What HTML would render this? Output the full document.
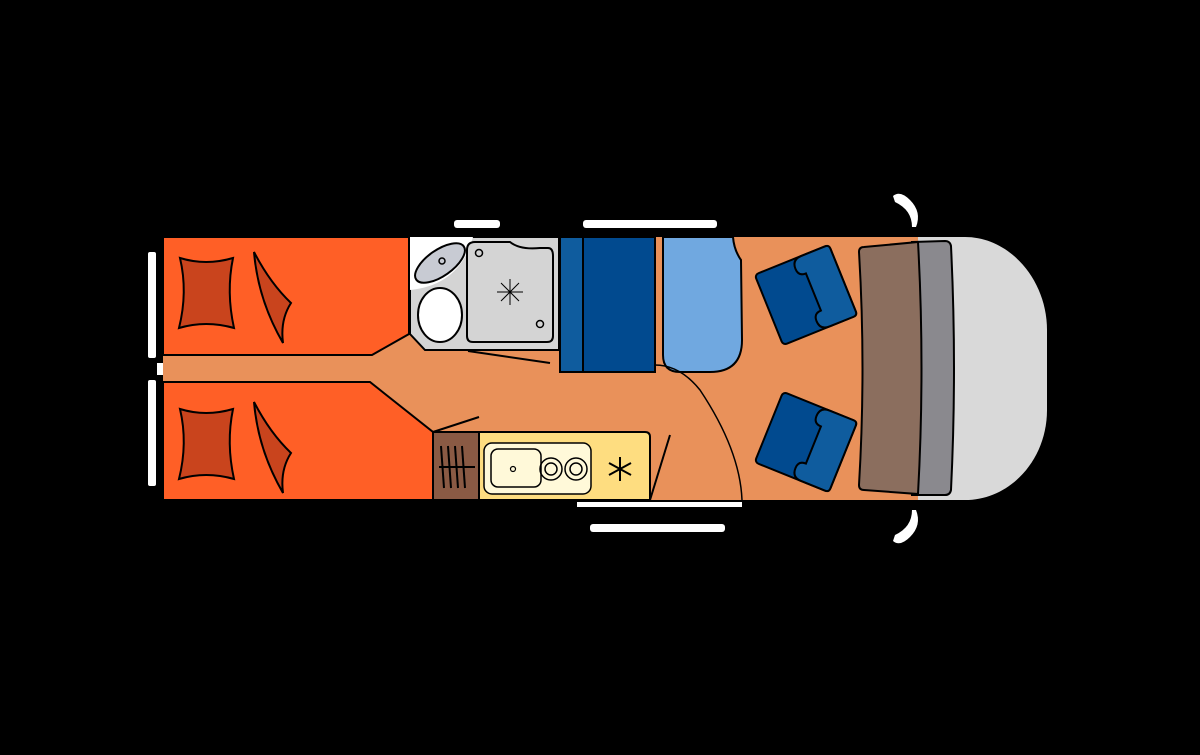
<!DOCTYPE html>
<html><head><style>html,body{margin:0;padding:0;background:#000}</style></head><body>
<svg width="1200" height="750" viewBox="0 0 1200 750" xmlns="http://www.w3.org/2000/svg">
<rect width="1200" height="750" fill="#000"/>
<!-- cab -->
<path d="M915,237 L965,237 C1010,237 1047,280 1047,330 L1047,410 C1047,460 1010,500 965,500 L915,500 Z" fill="#D9D9D9"/>
<!-- floor -->
<rect x="163" y="237" width="755" height="263" fill="#E9915A"/>
<!-- beds -->
<path d="M163,237 L409,237 L409,334 L372,355 L163,355 Z" fill="#FF5F26" stroke="#000" stroke-width="2"/>
<path d="M163,382 L370,382 L433,432 L433,500 L163,500 Z" fill="#FF5F26" stroke="#000" stroke-width="2"/>
<g fill="#C9441D" stroke="#000" stroke-width="2">
<path d="M180,258 Q206,266 233,258 Q226,292 234,328 Q206,320 179,328 Q188,292 180,258 Z"/>
<path d="M254,252 Q270,283 291,303 Q280,320 283,343 Q258,300 254,252 Z"/>
<path d="M180,409 Q206,417 233,409 Q226,443 234,479 Q206,471 179,479 Q188,443 180,409 Z"/>
<path d="M254,402 Q270,433 291,453 Q280,470 283,493 Q258,450 254,402 Z"/>
</g>
<!-- bathroom -->
<path d="M410,237 L559,237 L559,350 L425,350 L410,334 Z" fill="#D4D4D4" stroke="#000" stroke-width="2"/>
<path d="M410,237 L473,237 Q460,285 410,290 Z" fill="#fff"/>
<ellipse cx="440" cy="263" rx="29" ry="13" transform="rotate(-35 440 263)" fill="#C8CBD3" stroke="#000" stroke-width="2"/>
<circle cx="442" cy="261" r="3" fill="none" stroke="#000" stroke-width="1.5"/>
<ellipse cx="440" cy="315" rx="22" ry="27" fill="#fff" stroke="#000" stroke-width="2"/>
<path d="M467,250 Q467,242 475,242 L510,242 Q520,250 540,248 L548,248 Q553,248 553,256 L553,336 Q553,342 547,342 L473,342 Q467,342 467,336 Z" fill="#D4D4D4" stroke="#000" stroke-width="2"/>
<circle cx="479" cy="253" r="3.5" fill="none" stroke="#000" stroke-width="1.5"/>
<circle cx="540" cy="324" r="3.5" fill="none" stroke="#000" stroke-width="1.5"/>
<g stroke="#000" stroke-width="1"><line x1="497" y1="292" x2="523" y2="292"/><line x1="510" y1="279" x2="510" y2="305"/><line x1="501" y1="283" x2="519" y2="301"/><line x1="519" y1="283" x2="501" y2="301"/></g>
<line x1="468" y1="351" x2="550" y2="363" stroke="#000" stroke-width="2"/>
<!-- wardrobe -->
<rect x="560" y="237" width="95" height="135" fill="#014A8F" stroke="#000" stroke-width="2"/>
<rect x="560" y="237" width="23" height="135" fill="#0F5C9E" stroke="#000" stroke-width="2"/>
<!-- light seat -->
<path d="M663,237 L733,237 Q734,250 741,260 L742,340 Q742,372 710,372 L680,372 Q663,372 663,355 Z" fill="#70A8E0" stroke="#000" stroke-width="2"/>
<path d="M655,365 Q680,365 700,390 Q740,450 742,500" fill="none" stroke="#000" stroke-width="1.5"/>
<!-- kitchen -->
<rect x="433" y="432" width="46" height="68" fill="#8A5A44" stroke="#000" stroke-width="2"/>
<g stroke="#000" stroke-width="2"><line x1="441" y1="446" x2="444" y2="488"/><line x1="448" y1="446" x2="451" y2="488"/><line x1="455" y1="446" x2="458" y2="488"/><line x1="462" y1="446" x2="465" y2="488"/><line x1="439" y1="467" x2="475" y2="467"/></g>
<path d="M479,432 L645,432 Q650,432 650,437 L650,500 L479,500 Z" fill="#FEDD80" stroke="#000" stroke-width="2"/>
<rect x="484" y="443" width="107" height="51" rx="8" fill="#FFF9D9" stroke="#000" stroke-width="1.5"/>
<rect x="491" y="449" width="50" height="38" rx="7" fill="#FFF9D9" stroke="#000" stroke-width="1.5"/>
<circle cx="513" cy="469" r="2.5" fill="none" stroke="#000" stroke-width="1.2"/>
<circle cx="551" cy="469" r="11" fill="none" stroke="#000" stroke-width="1.5"/><circle cx="551" cy="469" r="6" fill="none" stroke="#000" stroke-width="1.5"/>
<circle cx="576" cy="469" r="11" fill="none" stroke="#000" stroke-width="1.5"/><circle cx="576" cy="469" r="6" fill="none" stroke="#000" stroke-width="1.5"/>
<g stroke="#000" stroke-width="2"><line x1="620" y1="457" x2="620" y2="481"/><line x1="609" y1="463" x2="631" y2="475"/><line x1="631" y1="463" x2="609" y2="475"/></g>
<line x1="433" y1="432" x2="479" y2="417" stroke="#000" stroke-width="2"/>
<line x1="650" y1="500" x2="670" y2="435" stroke="#000" stroke-width="2"/>
<!-- chairs -->
<g transform="translate(806,295) rotate(-22)">
<rect x="-40" y="-38" width="80" height="76" rx="4" fill="#014A8F" stroke="#000" stroke-width="2"/>
<path d="M10,-38 L36,-38 Q40,-38 40,-34 L40,34 Q40,38 36,38 L10,38 Q0,38 0,28 Q0,20 8,20 L8,-20 Q0,-20 0,-28 Q0,-38 10,-38 Z" fill="#0F5C9E" stroke="#000" stroke-width="2"/>
</g>
<g transform="translate(806,442) rotate(22)">
<rect x="-40" y="-38" width="80" height="76" rx="4" fill="#014A8F" stroke="#000" stroke-width="2"/>
<path d="M10,-38 L36,-38 Q40,-38 40,-34 L40,34 Q40,38 36,38 L10,38 Q0,38 0,28 Q0,20 8,20 L8,-20 Q0,-20 0,-28 Q0,-38 10,-38 Z" fill="#0F5C9E" stroke="#000" stroke-width="2"/>
</g>
<!-- dashboard -->
<path d="M912,242 L945,241 Q950,241 951,246 Q957,368 951,490 Q950,495 945,495 L912,495 Z" fill="#8A898E" stroke="#000" stroke-width="2"/>
<path d="M864,247 L918,242 Q925,368 918,494 L864,490 Q859,490 859,485 Q866,368 859,252 Q859,247 864,247 Z" fill="#8B6E5E" stroke="#000" stroke-width="2"/>
<!-- white windows -->
<g fill="#fff">
<rect x="148" y="252" width="8" height="106" rx="2"/>
<rect x="148" y="380" width="8" height="106" rx="2"/>
<rect x="157" y="363" width="6" height="12"/>
<rect x="454" y="220" width="46" height="8" rx="3"/>
<rect x="583" y="220" width="134" height="8" rx="3"/>
<rect x="577" y="502" width="165" height="5"/>
<rect x="590" y="524" width="135" height="8" rx="3"/>
<path d="M893,196 Q900,190 910,200 Q922,212 916,227 L912,227 Q912,210 895,202 Z"/>
<path d="M893,541 Q900,547 910,537 Q922,525 916,510 L912,510 Q912,527 895,535 Z"/>
</g>
</svg>
</body></html>
